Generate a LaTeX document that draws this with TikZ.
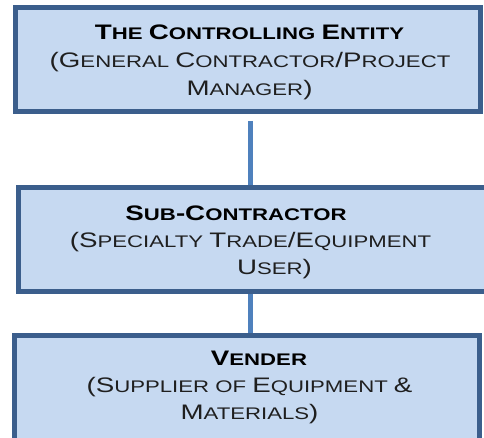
\documentclass[tikz,border=0pt]{standalone}
\usepackage{fontspec}
\newfontfamily\cpfont[FakeStretch=1.32]{Liberation Sans}
\definecolor{boxfill}{HTML}{C6D9F1}
\definecolor{boxline}{HTML}{3B5E8C}
\definecolor{connline}{HTML}{4F81BD}
\newcommand\Bg[1]{{\fontsize{21}{24}\selectfont #1}}
\begin{document}
\begin{tikzpicture}[x=1pt,y=-1pt,
  box/.style={draw=boxline, fill=boxfill, line width=5pt, inner sep=0pt, rectangle},
  conn/.style={draw=connline, line width=5.7pt},
  txt/.style={anchor=base, inner sep=0pt, font=\cpfont\fontsize{16.8}{20}\selectfont, text=black!88},
  ttl/.style={anchor=base, inner sep=0pt, font=\cpfont\bfseries\fontsize{16.8}{20}\selectfont, text=black}]
\useasboundingbox (0,0) rectangle (484,438);
\clip (0,0) rectangle (484,438);
\coordinate (c1) at (250.5,121);
\node[box, minimum width=465pt, minimum height=104pt] (b1) at (248,59.5) {};
\node[box, minimum width=471pt, minimum height=104pt] (b2) at (254,239.5) {};
\node[box, minimum width=465pt, minimum height=105.5pt] (b3) at (247,388.25) {};
\draw[conn] (c1) -- (c1 |- b2.north);
\draw[conn] (c1 |- b2.south) -- (c1 |- b3.north);
% texts
\node[ttl] (t1a) at (249.5,40) {\Bg{T}HE \Bg{C}ONTROLLING \Bg{E}NTITY};
\node[txt] (t1b) at (250,68) {\Bg{(G}ENERAL \Bg{C}ONTRACTOR\Bg{/P}ROJECT};
\node[txt] (t1c) at (249.5,96) {\Bg{M}ANAGER\Bg{)}};
\node[ttl] (t2a) at (236,220.5) {\Bg{S}UB\Bg{-C}ONTRACTOR};
\node[txt] (t2b) at (250.5,247.5) {\Bg{(S}PECIALTY \Bg{T}RADE\Bg{/E}QUIPMENT};
\node[txt] (t2c) at (274.5,274.5) {\Bg{U}SER\Bg{)}};
\node[ttl] (t3a) at (259,365) {\Bg{V}ENDER};
\node[txt] (t3b) at (249.5,392) {\Bg{(S}UPPLIER OF \Bg{E}QUIPMENT \Bg{\&}};
\node[txt] (t3c) at (249.5,419) {\Bg{M}ATERIALS\Bg{)}};
\end{tikzpicture}
\end{document}
